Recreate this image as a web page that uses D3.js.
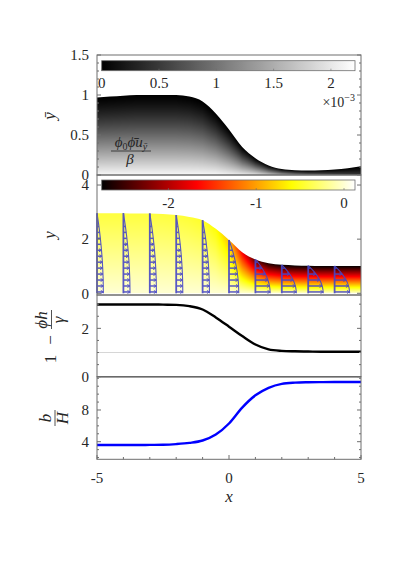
<!DOCTYPE html>
<html lang="en">
<head>
<meta charset="UTF-8">
<title>Film profiles</title>
<style>
  html, body { margin: 0; padding: 0; background: #fff; }
  svg { display: block; font-family: "Liberation Serif", "DejaVu Serif", serif; }
</style>
</head>
<body>
<svg id="svg" width="399" height="564"></svg>
<script src="https://cdn.jsdelivr.net/npm/d3@7"></script>
<script>
// sample positions along x
const xGrid = [-5, -4.5, -4, -3.5, -3, -2.5, -2, -1.5, -1, -0.5, 0, 0.5, 1, 1.5, 2, 2.5, 3, 3.5, 4, 4.5, 5];
// panel 1: surface in rescaled coordinate, and grey value at the base (x1e-3)
const ybarTop  = [0.97, 0.98, 0.99, 1.0, 1.0, 1.0, 1.0, 0.98, 0.92, 0.77, 0.57, 0.35, 0.21, 0.12, 0.075, 0.06, 0.055, 0.06, 0.07, 0.085, 0.11];
const ybarBase = [2.15, 2.15, 2.15, 2.15, 2.15, 2.15, 2.15, 2.15, 2.15, 2.15, 2.1, 2.05, 2.0, 1.8, 1.5, 1.2, 1.0, 0.85, 0.7, 0.6, 0.5];
// panel 2: film surface and field value at the surface
const ySurface = [2.96, 2.96, 2.96, 2.95, 2.95, 2.93, 2.89, 2.82, 2.70, 2.38, 1.97, 1.52, 1.25, 1.11, 1.05, 1.03, 1.02, 1.01, 1.01, 1.01, 1.01];
const uSurface = [-0.42, -0.42, -0.42, -0.42, -0.42, -0.42, -0.43, -0.45, -0.48, -0.58, -0.85, -1.7, -2.4, -2.65, -2.72, -2.74, -2.75, -2.75, -2.75, -2.75, -2.75];
// panel 3 and 4 curves
const capillary = [2.99, 2.99, 2.99, 2.99, 2.99, 2.98, 2.97, 2.92, 2.78, 2.45, 2.07, 1.68, 1.33, 1.13, 1.07, 1.05, 1.04, 1.03, 1.03, 1.03, 1.03];
const bOverH    = [3.58, 3.58, 3.58, 3.58, 3.6, 3.62, 3.7, 3.85, 4.15, 4.9, 6.3, 8.3, 9.85, 10.8, 11.3, 11.45, 11.5, 11.52, 11.53, 11.53, 11.53];
// velocity profiles
const profileX = [-5, -4, -3, -2, -1, 0, 1, 2, 3, 4];
const profileU = [0.24, 0.25, 0.25, 0.25, 0.26, 0.37, 0.56, 0.55, 0.57, 0.57];
const arrowY   = [0.05, 0.27, 0.49, 0.71, 0.93, 1.15, 1.37, 1.59, 1.81, 2.03, 2.25, 2.47, 2.69, 2.91];
const shapeFrac = [0, 0.2, 0.4, 0.6, 0.8, 1];
const shapeVal  = [1, 0.96, 0.84, 0.64, 0.36, 0];
// ticks
const xTicks = [-5, 0, 5], xMinor = [-4, -3, -2, -1, 1, 2, 3, 4];
const p1Ticks = [0, 0.5, 1, 1.5], p1Labels = ['0', '0.5', '1', '1.5'];
const p2Ticks = [0, 2, 4], p2Labels = ['0', '2', '4'];
const p3Ticks = [0, 2], p3Labels = ['0', '2'];
const p4Ticks = [4, 8], p4Labels = ['4', '8'];
const cb1Ticks = [0, 0.5, 1, 1.5, 2], cb1Labels = ['0', '0.5', '1', '1.5', '2'];
const cb2Ticks = [-2, -1, 0], cb2Labels = ['-2', '-1', '0'];

const svg = d3.select('#svg');
const TXT = '#262626', AX = '#6e6e6e';
const L = 97, R = 361;

const x = d3.scaleLinear().domain([-5, 5]).range([L, R]);
const y1 = d3.scaleLinear().domain([0, 1.5]).range([175, 55]);
const y2 = d3.scaleLinear().domain([-0.063, 4.37]).range([295, 175]);
const y3 = d3.scaleLinear().domain([0, 3.38]).range([376.7, 295]);
const y4 = d3.scaleLinear().domain([1.78, 12.2]).range([459.3, 376.7]);

const interp = arr => d3.scaleLinear().domain(xGrid).range(arr).clamp(true);
const topAt = interp(ybarTop), baseAt = interp(ybarBase);
const surfAt = interp(ySurface), uTopAt = interp(uSurface);
const shape = d3.scaleLinear().domain(shapeFrac).range(shapeVal).clamp(true);

const cb1 = d3.scaleLinear().domain([0, 2.21]).range([101.7, 355]);
const cb2 = d3.scaleLinear().domain([-2.76, 0.125]).range([101.7, 355]);

function hot(t) {
  t = Math.max(0, Math.min(1, t));
  const c = v => Math.round(255 * Math.max(0, Math.min(1, v)));
  return [c(t / 0.375), c((t - 0.375) / 0.375), c((t - 0.75) / 0.25)];
}
function grey(t) {
  const g = Math.round(255 * Math.max(0, Math.min(1, t)));
  return [g, g, g];
}

// raster fill under a smooth surface
function rasterFill(ys, surface, colorAt) {
  const yb = ys.range()[0], yt = ys.range()[1];
  const w = Math.round(R - L), h = Math.round(yb - yt);
  const cv = document.createElement('canvas');
  cv.width = w; cv.height = h;
  const ctx = cv.getContext('2d');
  const img = ctx.createImageData(w, h);
  for (let px = 0; px < w; px++) {
    const xv = x.invert(L + px + 0.5);
    for (let py = 0; py < h; py++) {
      const yv = ys.invert(yt + py + 0.5);
      const c = colorAt(xv, yv);
      const k = (py * w + px) * 4;
      img.data[k] = c[0]; img.data[k + 1] = c[1]; img.data[k + 2] = c[2]; img.data[k + 3] = 255;
    }
  }
  ctx.putImageData(img, 0, 0);
  const cv2 = document.createElement('canvas');
  cv2.width = w; cv2.height = h;
  const c2 = cv2.getContext('2d');
  c2.beginPath();
  d3.area()
    .x((d, i) => x(xGrid[i]) - L)
    .y0(ys(0) - yt)
    .y1(d => ys(d) - yt)
    .curve(d3.curveMonotoneX)
    .context(c2)(surface);
  c2.clip();
  c2.drawImage(cv, 0, 0);
  svg.append('image')
    .attr('x', L).attr('y', yt).attr('width', w).attr('height', h)
    .attr('href', cv2.toDataURL());
}

// panel 1 fill
rasterFill(y1, ybarTop, (xv, yv) => {
  const s = Math.max(0, 1 - yv / topAt(xv));
  return grey(baseAt(xv) * Math.pow(s, 1.25) / 2.21);
});

// panel 2 fill
rasterFill(y2, ySurface, (xv, yv) => {
  const v = uTopAt(xv) * Math.max(0, Math.min(1, yv / surfAt(xv)));
  return hot((v - cb2.domain()[0]) / (cb2.domain()[1] - cb2.domain()[0]));
});

// velocity profiles
const BLUE = '#4646c8';
const prof = svg.append('g').attr('stroke', BLUE).attr('fill', 'none').attr('opacity', 0.9);
profileX.forEach((px0, i) => {
  const hv = surfAt(px0), U = profileU[i];
  prof.append('line')
    .attr('x1', x(px0)).attr('x2', x(px0))
    .attr('y1', y2(0)).attr('y2', y2(hv))
    .attr('stroke-width', 1.8);
  const env = shapeFrac.map((f, j) => [px0 + U * shapeVal[j], f * hv]);
  prof.append('path')
    .attr('d', d3.line().x(d => x(d[0])).y(d => y2(d[1])).curve(d3.curveMonotoneY)(env))
    .attr('stroke-width', 1.1);
  arrowY.filter(a => a < hv).forEach(a => {
    const x0 = x(px0), x1 = x(px0 + U * shape(a / hv)), yy = y2(a);
    prof.append('line').attr('x1', x0).attr('x2', x1).attr('y1', yy).attr('y2', yy)
      .attr('stroke-width', 1.5);
    if (x1 - x0 > 4) {
      prof.append('path')
        .attr('d', `M${x1 - 2.5},${yy - 1.5}L${x1},${yy}L${x1 - 2.5},${yy + 1.5}`)
        .attr('stroke-width', 1);
    }
  });
});

// panel 3 curves
svg.append('line').attr('x1', L).attr('x2', R).attr('y1', y3(1)).attr('y2', y3(1))
  .attr('stroke', '#d6d6d6').attr('stroke-width', 1);
svg.append('line').attr('x1', L).attr('x2', R).attr('y1', y3(0)).attr('y2', y3(0))
  .attr('stroke', '#000').attr('stroke-width', 1.2);
svg.append('path')
  .attr('d', d3.line().x((d, i) => x(xGrid[i])).y(d => y3(d)).curve(d3.curveMonotoneX)(capillary))
  .attr('fill', 'none').attr('stroke', '#000').attr('stroke-width', 2.4);

// panel 4 curve
svg.append('path')
  .attr('d', d3.line().x((d, i) => x(xGrid[i])).y(d => y4(d)).curve(d3.curveMonotoneX)(bOverH))
  .attr('fill', 'none').attr('stroke', '#0000ff').attr('stroke-width', 2.4);

// frames and ticks
function frame(ys, ticks, labels, minor) {
  const yb = ys.range()[0], yt = ys.range()[1];
  const g = svg.append('g');
  g.append('rect').attr('x', L).attr('y', yt).attr('width', R - L).attr('height', yb - yt)
    .attr('fill', 'none').attr('stroke', AX).attr('stroke-width', 1);
  ticks.forEach((t, i) => {
    const yy = ys(t);
    g.append('line').attr('x1', L).attr('x2', L + 4).attr('y1', yy).attr('y2', yy).attr('stroke', AX);
    g.append('line').attr('x1', R).attr('x2', R - 4).attr('y1', yy).attr('y2', yy).attr('stroke', AX);
    g.append('text').attr('x', 89).attr('y', yy).attr('dy', '0.35em')
      .attr('text-anchor', 'end').attr('font-size', 15).attr('fill', TXT).text(labels[i]);
  });
  minor.forEach(t => {
    const yy = ys(t);
    g.append('line').attr('x1', L).attr('x2', L + 2).attr('y1', yy).attr('y2', yy).attr('stroke', AX);
    g.append('line').attr('x1', R).attr('x2', R - 2).attr('y1', yy).attr('y2', yy).attr('stroke', AX);
  });
}
frame(y1, p1Ticks, p1Labels, [0.1, 0.2, 0.3, 0.4, 0.6, 0.7, 0.8, 0.9, 1.1, 1.2, 1.3, 1.4]);
frame(y2, p2Ticks, p2Labels, []);
frame(y3, p3Ticks, p3Labels, [0.5, 1, 1.5, 2.5, 3]);
frame(y4, p4Ticks, p4Labels, [2, 3, 5, 6, 7, 9, 10, 11, 12]);

// x axis
const gx = svg.append('g');
xTicks.forEach(t => {
  gx.append('line').attr('x1', x(t)).attr('x2', x(t)).attr('y1', 459.3).attr('y2', 455).attr('stroke', AX);
  gx.append('text').attr('x', x(t)).attr('y', 483).attr('text-anchor', 'middle')
    .attr('font-size', 15).attr('fill', TXT).text(String(t).replace('\u2212', '-'));
});
xMinor.forEach(t => {
  gx.append('line').attr('x1', x(t)).attr('x2', x(t)).attr('y1', 459.3).attr('y2', 457).attr('stroke', AX);
});
svg.append('text').attr('x', x(0)).attr('y', 502).attr('text-anchor', 'middle')
  .attr('font-size', 17).attr('font-style', 'italic').attr('fill', TXT).text('x');

// colorbars
const defs = svg.append('defs');
function colorbar(id, sc, fn, y0, ticks, labels, labelY) {
  const grad = defs.append('linearGradient').attr('id', id);
  d3.range(0, 1.0001, 1 / 40).forEach(t => {
    const c = fn(t);
    grad.append('stop').attr('offset', t).attr('stop-color', `rgb(${c[0]},${c[1]},${c[2]})`);
  });
  const [a, b] = sc.range();
  svg.append('rect').attr('x', a).attr('y', y0).attr('width', b - a).attr('height', 10)
    .attr('fill', `url(#${id})`).attr('stroke', AX).attr('stroke-width', 0.8);
  ticks.forEach((t, i) => {
    svg.append('line').attr('x1', sc(t)).attr('x2', sc(t)).attr('y1', y0 + 10).attr('y2', y0 + 8)
      .attr('stroke', AX).attr('stroke-width', 0.6);
    svg.append('text').attr('x', sc(t)).attr('y', labelY).attr('text-anchor', 'middle')
      .attr('font-size', 15).attr('fill', TXT).text(labels[i]);
  });
}
colorbar('cbGrey', cb1, grey, 60.7, cb1Ticks, cb1Labels, 88);
colorbar('cbHot', cb2, hot, 180, cb2Ticks, cb2Labels, 208);

const exp = svg.append('text').attr('x', 355).attr('y', 107).attr('text-anchor', 'end')
  .attr('font-size', 14).attr('fill', TXT);
exp.append('tspan').text('\u00d710');
exp.append('tspan').attr('font-size', 10).attr('dy', -6).text('\u22123');

// colorbar quantity label in panel 1
const q = svg.append('text').attr('x', 131).attr('y', 147).attr('text-anchor', 'middle')
  .attr('font-size', 15).attr('font-style', 'italic').attr('fill', TXT);
q.append('tspan').text('\u03d5');
q.append('tspan').attr('font-size', 10).attr('dy', 3).attr('font-style', 'normal').text('0');
q.append('tspan').attr('dy', -3).text('\u03d5\u0304u');
q.append('tspan').attr('font-size', 10).attr('dy', 3).text('\u0233');
svg.append('line').attr('x1', 111).attr('x2', 151).attr('y1', 151).attr('y2', 151)
  .attr('stroke', TXT).attr('stroke-width', 0.8);
svg.append('text').attr('x', 130).attr('y', 164).attr('text-anchor', 'middle')
  .attr('font-size', 15).attr('font-style', 'italic').attr('fill', TXT).text('\u03b2');

// y-axis labels (rotated)
function rotLabel(cx, cy) {
  return svg.append('g').attr('transform', `translate(${cx},${cy}) rotate(-90)`)
    .attr('fill', TXT).attr('font-size', 17);
}
rotLabel(55, 116).append('text').attr('text-anchor', 'middle').attr('font-style', 'italic').text('\u0233');
rotLabel(55, 235).append('text').attr('text-anchor', 'middle').attr('font-style', 'italic').text('y');

const g3 = rotLabel(56, 337);
g3.append('text').attr('x', -22).attr('text-anchor', 'middle').text('1');
g3.append('text').attr('x', -3).attr('text-anchor', 'middle').text('\u2212');
g3.append('text').attr('x', 17).attr('y', -9).attr('text-anchor', 'middle').attr('font-style', 'italic').text('\u03d5h');
g3.append('line').attr('x1', 8).attr('x2', 27).attr('y1', -4.5).attr('y2', -4.5).attr('stroke', TXT).attr('stroke-width', 0.8);
g3.append('text').attr('x', 17).attr('y', 8).attr('text-anchor', 'middle').attr('font-style', 'italic').text('\u03b3');

const g4 = rotLabel(55, 418);
g4.append('text').attr('x', 0).attr('y', -4).attr('text-anchor', 'middle').attr('font-style', 'italic').text('b');
g4.append('line').attr('x1', -8).attr('x2', 8).attr('y1', 0).attr('y2', 0).attr('stroke', TXT).attr('stroke-width', 0.8);
g4.append('text').attr('x', 0).attr('y', 13).attr('text-anchor', 'middle').attr('font-style', 'italic').text('H');
</script>
</body>
</html>
